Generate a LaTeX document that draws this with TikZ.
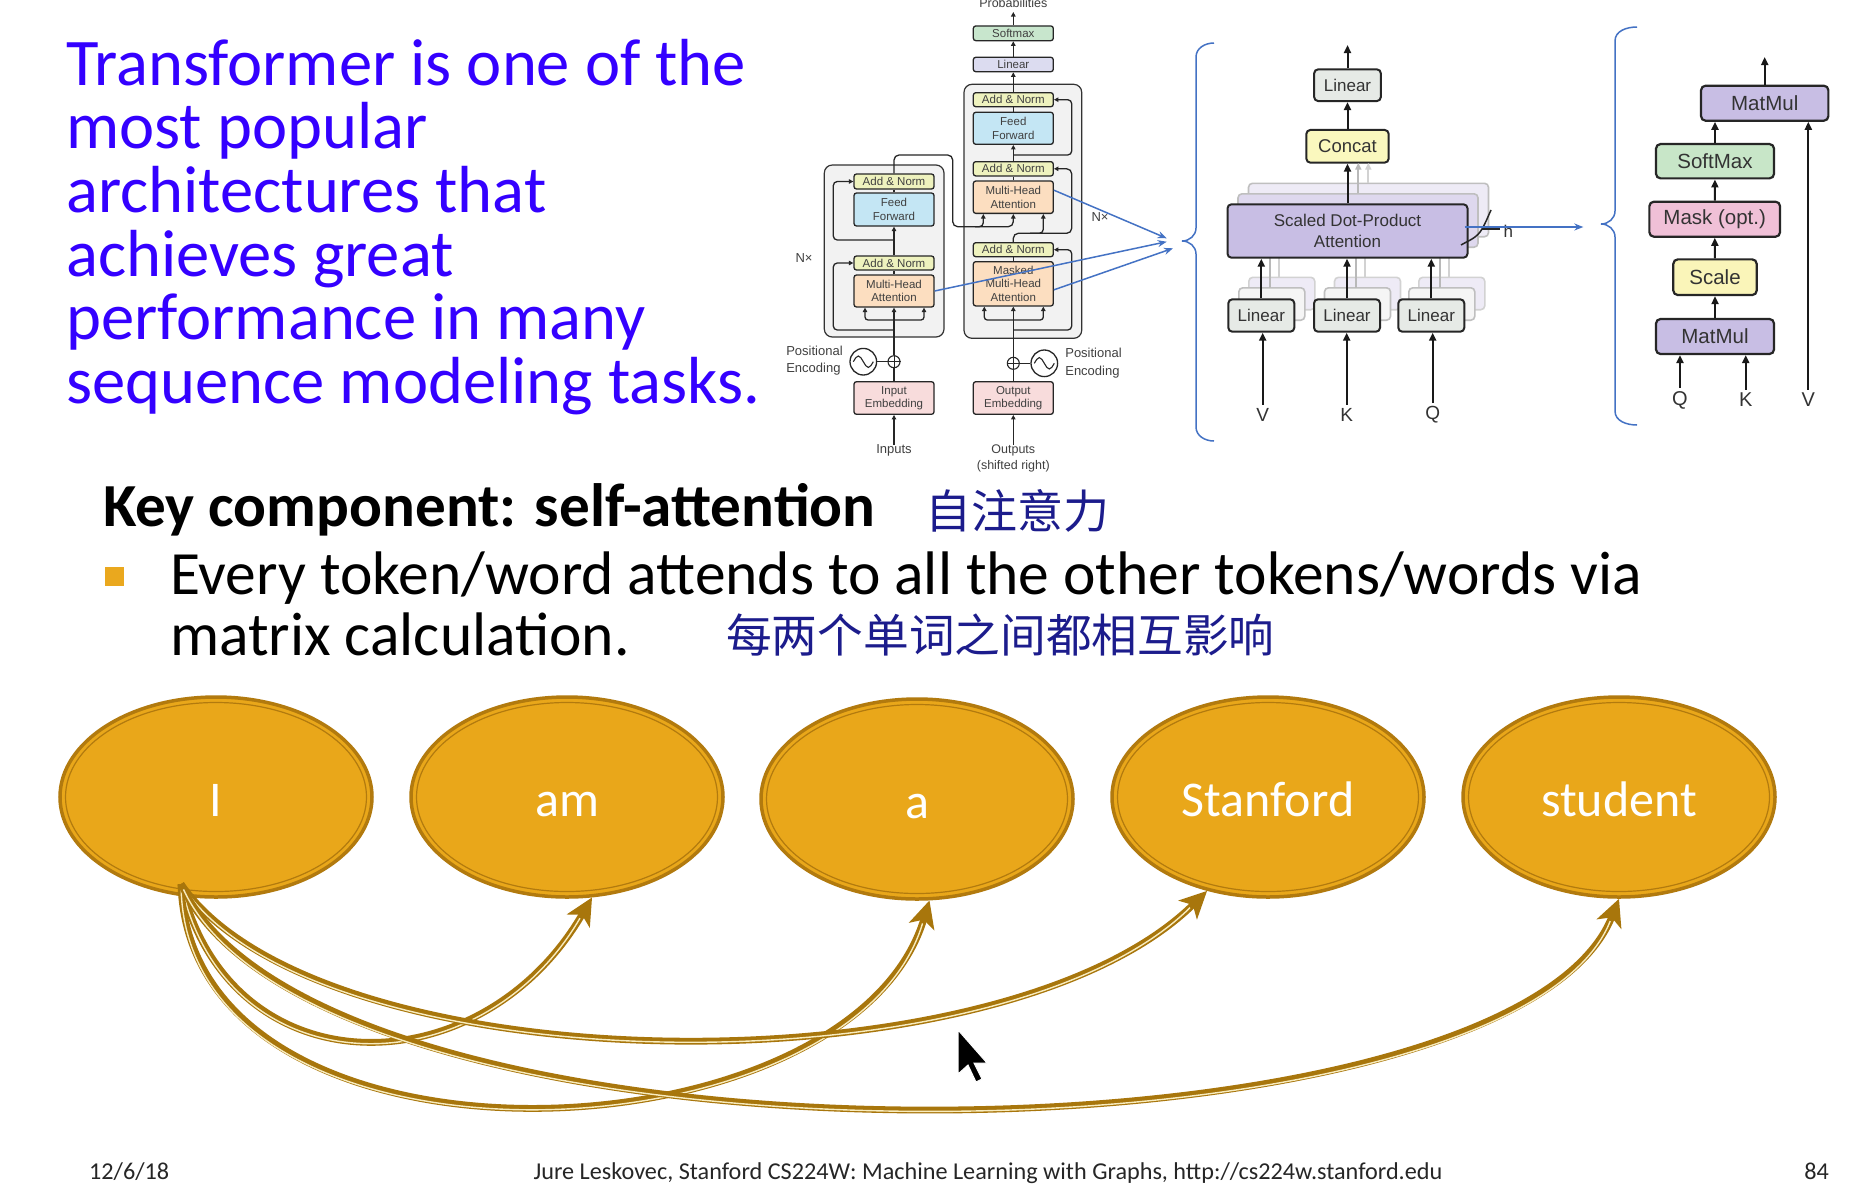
\documentclass[tikz,border=0pt]{standalone}
\usepackage{fontspec}
\setmainfont{Carlito}
\newfontfamily\hv{Liberation Sans}
\newfontfamily\cjk{Noto Sans CJK SC}
\usetikzlibrary{arrows.meta,shapes.geometric,calc}
\definecolor{titleblue}{RGB}{52,0,255}
\definecolor{hand}{RGB}{28,28,140}
\definecolor{bulletc}{RGB}{234,168,30}
\definecolor{tokfill}{RGB}{233,167,26}
\definecolor{tokring}{RGB}{178,122,14}
\definecolor{attncol}{RGB}{168,118,12}
\definecolor{attncore}{RGB}{248,236,190}
\definecolor{annblue}{RGB}{68,114,196}
\definecolor{anfill}{RGB}{238,242,190}
\definecolor{fffill}{RGB}{196,230,244}
\definecolor{mhafill}{RGB}{252,222,192}
\definecolor{embfill}{RGB}{248,220,220}
\definecolor{linfill}{RGB}{220,220,240}
\definecolor{softfill}{RGB}{200,230,205}
\definecolor{mlin}{RGB}{230,234,230}
\definecolor{mcon}{RGB}{250,248,190}
\definecolor{sdpfill}{RGB}{200,190,228}
\definecolor{ghostA}{RGB}{222,216,238}
\definecolor{ghostB}{RGB}{238,235,246}
\definecolor{smfill}{RGB}{200,230,200}
\definecolor{mkfill}{RGB}{240,192,215}
\definecolor{scfill}{RGB}{250,245,185}
\newcommand\tfnt{\hv\fontsize{11.5}{13.4}\selectfont}
\newcommand\mfnt{\hv\fontsize{17}{21.5}\selectfont}
\newcommand\sfnt{\hv\fontsize{20.5}{22}\selectfont}
\begin{document}
\begin{tikzpicture}[x=1pt,y=-1pt,
  tbox/.style={draw=black!85, line width=1.3pt, rounded corners=2.5pt, inner sep=0pt, minimum width=80pt, align=center, text=black!75, font=\tfnt},
  tarr/.style={line width=1.3pt, draw=black!85, -{Triangle[length=4.5pt,width=4.5pt]}},
  twire/.style={line width=1.3pt, draw=black!85},
  tlab/.style={inner sep=0pt, text=black!75, font=\hv\fontsize{13}{17.3}\selectfont, align=left},
  mbox/.style={draw=black!85, line width=2pt, rounded corners=4pt, inner sep=0pt, align=center, text=black!80, font=\mfnt},
  gbox/.style={draw=gray!50, line width=1.6pt, rounded corners=4pt, inner sep=0pt},
  marr/.style={line width=2pt, draw=black!90, -{Triangle[length=8pt,width=7pt]}},
  garr/.style={line width=1.8pt, draw=gray!55, -{Triangle[length=7pt,width=6pt]}},
  sbox/.style={draw=black!85, line width=2.2pt, rounded corners=4.5pt, inner sep=0pt, align=center, text=black!80, font=\sfnt},
  qkv/.style={text=black!80, font=\hv\fontsize{19}{20}\selectfont},
  bline/.style={draw=annblue, line width=1.5pt},
  blarr/.style={draw=annblue, line width=1.5pt, -{Stealth[length=9pt,width=7pt]}},
  tok/.style={ellipse, fill=tokfill, draw=tokring, line width=3.5pt, minimum width=312pt, minimum height=200pt, inner sep=0pt, text=white, font=\fontsize{50}{50}\selectfont, text height=38pt, text depth=0pt},
  attn/.style={draw=attncol, line width=6.8pt, -{Stealth[length=27pt,width=26pt,inset=7pt]}, postaction={draw=attncore, line width=1.4pt, shorten >=24pt, shorten <=6pt, -}},
  foot/.style={inner sep=0pt, text=black!85, font=\fontsize{24.2}{25}\selectfont}
]
\useasboundingbox (0,0) rectangle (1860,1184);
\fill[white] (0,0) rectangle (1860,1184);

% ---------- title ----------
\foreach \t [count=\i from 0] in {Transformer is one of the, most popular, architectures that, achieves great, performance in many, sequence modeling tasks.}
  \node[anchor=base west, inner sep=0pt, text=titleblue, font=\fontsize{66.6}{66}\selectfont] (title\i) at (66,85+63.7*\i) {\t};

% ---------- key component ----------
\node[anchor=base west, inner sep=0pt, font=\bfseries\fontsize{61.2}{61}\selectfont] (key) at (103,526) {Key component: self-attention};
\node[anchor=base west, inner sep=0pt, text=hand, font=\cjk\fontsize{46}{46}\selectfont] (zh1) at (925,528) {自注意力};
\fill[bulletc] (105,567) rectangle (124,586);
\node[anchor=base west, inner sep=0pt, font=\fontsize{61.5}{61}\selectfont] (b1) at (170,594) {Every token/word attends to all the other tokens/words via};
\node[anchor=base west, inner sep=0pt, font=\fontsize{61.5}{61}\selectfont] (b2) at (170,655) {matrix calculation.};
\node[anchor=base west, inner sep=0pt, text=hand, font=\cjk\fontsize{45.7}{46}\selectfont] (zh2) at (726,652) {每两个单词之间都相互影响};

% ---------- transformer: encoder ----------
\node[fill=black!5, draw=black!80, line width=1.2pt, rounded corners=8pt, minimum width=119.7pt, minimum height=172pt, inner sep=0pt] (encbox) at (884.15,251) {};
\node[fill=black!5, draw=black!80, line width=1.2pt, rounded corners=8pt, minimum width=117.7pt, minimum height=254pt, inner sep=0pt] (decbox) at (1022.85,211.3) {};

\node[tbox, fill=anfill, minimum height=15pt] (eAN2) at (894,181.5) {Add \& Norm};
\node[tbox, fill=fffill, minimum height=33pt] (eFF) at (894,209.5) {Feed\\Forward};
\node[tbox, fill=anfill, minimum height=14pt] (eAN1) at (894,263) {Add \& Norm};
\node[tbox, fill=mhafill, minimum height=32pt] (eMHA) at (894,291) {Multi-Head\\Attention};
\node[tbox, fill=embfill, minimum height=32.6pt] (eEmb) at (894,398) {Input\\Embedding};
\node[tlab, align=center] (inputs) at (894,450.7) {Inputs};
\node[circle, draw=black!85, line width=1.1pt, minimum size=12pt, inner sep=0pt] (ePlus) at (894,361.7) {};
\draw[line width=1pt, black!85] (ePlus.north)--(ePlus.south) (ePlus.west)--(ePlus.east);
\node[circle, draw=black!85, line width=1.3pt, minimum size=26.6pt, inner sep=0pt] (ePos) at (863.3,361.7) {};
\draw[line width=1.1pt, black!85] (853.3,361.7) sin (858.3,356) cos (863.3,361.7) sin (868.3,367.4) cos (873.3,361.7);
\node[tlab] (ePE) at (814.5,360.5) {Positional\\Encoding};
\node[tlab] (eNx) at (804,258) {N×};

\draw[tarr] (inputs) -- (eEmb);
\draw[twire] (eEmb) -- (ePlus);
\draw[twire] (ePos) -- (ePlus);
\draw[tarr] (ePlus) -- (eMHA);
\draw[tarr, rounded corners=3pt] (894,320) -| ([xshift=-29pt]eMHA.south);
\draw[tarr, rounded corners=3pt] (894,320) -| ([xshift=30pt]eMHA.south);
\draw[tarr, rounded corners=4pt] (894,330) -| (833.3,300) |- (eAN1.west);
\draw[twire] (eMHA) -- (eAN1);
\draw[tarr] (eAN1) -- (eFF);
\draw[tarr, rounded corners=4pt] (894,240) -| (833.3,220) |- (eAN2.west);
\draw[twire] (eFF) -- (eAN2);

% ---------- transformer: decoder ----------
\node[tbox, fill=softfill, minimum height=14.7pt] (dSoft) at (1013.3,33.3) {Softmax};
\node[tbox, fill=linfill, minimum height=14.4pt] (dLin) at (1013.3,64.5) {Linear};
\node[tbox, fill=anfill, minimum height=14pt] (dAN3) at (1013.3,99.7) {Add \& Norm};
\node[tbox, fill=fffill, minimum height=32pt] (dFF) at (1013.3,128.3) {Feed\\Forward};
\node[tbox, fill=anfill, minimum height=14.3pt] (dAN2) at (1013.3,168.8) {Add \& Norm};
\node[tbox, fill=mhafill, minimum height=32.3pt] (dMHA) at (1013.3,197.2) {Multi-Head\\Attention};
\node[tbox, fill=anfill, minimum height=14pt] (dAN1) at (1013.3,249.7) {Add \& Norm};
\node[tbox, fill=mhafill, minimum height=44.3pt] (dMMHA) at (1013.3,283.8) {Masked\\Multi-Head\\Attention};
\node[tbox, fill=embfill, minimum height=32.6pt] (dEmb) at (1013.3,398) {Output\\Embedding};
\node[tlab, align=center, font=\hv\fontsize{12.5}{16}\selectfont] (outputs) at (1013.3,458.7) {Outputs\\(shifted right)};
\node[circle, draw=black!85, line width=1.1pt, minimum size=12pt, inner sep=0pt] (dPlus) at (1013.3,363.3) {};
\draw[line width=1pt, black!85] (dPlus.north)--(dPlus.south) (dPlus.west)--(dPlus.east);
\node[circle, draw=black!85, line width=1.3pt, minimum size=26.6pt, inner sep=0pt] (dPos) at (1044.3,363.3) {};
\draw[line width=1.1pt, black!85] (1034.3,363.3) sin (1039.3,357.6) cos (1044.3,363.3) sin (1049.3,369) cos (1054.3,363.3);
\node[tlab] (dPE) at (1093.5,363) {Positional\\Encoding};
\node[tlab] (dNx) at (1100,216.7) {N×};
\node[anchor=base, inner sep=0pt, text=black!75, font=\hv\fontsize{12.5}{14}\selectfont] (prob) at (1013.3,7) {Probabilities};
\coordinate (probtip) at (1013.3,12);

\draw[tarr] (outputs) -- (dEmb);
\draw[twire] (dEmb) -- (dPlus);
\draw[twire] (dPos) -- (dPlus);
\draw[tarr] (dPlus) -- (dMMHA);
\draw[tarr, rounded corners=3pt] (1013.3,320) -| ([xshift=-29pt]dMMHA.south);
\draw[tarr, rounded corners=3pt] (1013.3,320) -| ([xshift=30pt]dMMHA.south);
\draw[tarr, rounded corners=4pt] (1013.3,330) -| (1071.7,300) |- (dAN1.east);
\draw[twire] (dMMHA) -- (dAN1);
\draw[tarr, rounded corners=5pt] (dAN1.north) |- (1071.7,233.3) |- (dAN2.east);
\draw[tarr, rounded corners=4pt] (1030,233.3) -| ([xshift=30pt]dMHA.south);
\draw[tarr, rounded corners=5pt] (eAN2.north) |- (952.7,155) |- (1013.3,226.7) -- (dMHA.south);
\draw[tarr, rounded corners=4pt] (975,226.7) -| ([xshift=-30pt]dMHA.south);
\draw[twire] (dMHA) -- (dAN2);
\draw[tarr] (dAN2) -- (dFF);
\draw[tarr, rounded corners=4pt] (1013.3,155) -| (1071.7,130) |- (dAN3.east);
\draw[twire] (dFF) -- (dAN3);
\draw[tarr] (dAN3) -- (dLin);
\draw[tarr] (dLin) -- (dSoft);
\draw[tarr] (dSoft.north) -- (probtip);

% ---------- blue annotations (left) ----------
\coordinate (bt1) at (1166.7,238.3);
\coordinate (bt2) at (1166.7,241.7);
\coordinate (bt3) at (1173,248.3);
\draw[blarr] ([yshift=7pt]dMHA.east) -- (bt1);
\draw[blarr] (eMHA.east) -- (bt2);
\draw[blarr] ([yshift=-6pt]dMMHA.east) -- (bt3);
\draw[bline] (1214,43) to[out=180,in=90] (1196,57) -- (1196,228) to[out=-90,in=0] (1182,241) to[out=0,in=90] (1196,254) -- (1196,427) to[out=-90,in=180] (1214,441);

% ---------- multi-head attention ----------
\node[mbox, fill=mlin, minimum width=66.7pt, minimum height=31.7pt] (mLin) at (1347.5,85.2) {Linear};
\node[mbox, fill=mcon, minimum width=82.3pt, minimum height=32.7pt, font=\hv\fontsize{18.5}{20}\selectfont] (mCon) at (1347.5,146.3) {Concat};
\node[gbox, fill=ghostB, minimum width=240pt, minimum height=53.4pt] (mSg2) at (1368.5,210) {};
\node[gbox, fill=ghostA, minimum width=240pt, minimum height=53.4pt] (mSg1) at (1358,220.5) {};
\draw[garr, draw=gray!35] (mSg2.north -| 1368.3,0) -- (1368.3,162.7);
\draw[garr] (mSg1.north -| 1358.3,0) -- (1358.3,162.7);
\foreach \n/\cx in {1/1261.3,2/1347,3/1431.3}{
  \node[gbox, fill=ghostB, draw=gray!35, minimum width=66pt, minimum height=32.4pt] (mLg2\n) at (\cx+20.5,293.5) {};
  \node[gbox, fill=gray!8, minimum width=66pt, minimum height=32.4pt] (mLg1\n) at (\cx+10.5,304) {};
  \draw[line width=1.8pt, gray!35] (\cx+18,277.3) -- (\cx+18,236);
  \draw[line width=1.8pt, gray!55] (\cx+9,288) -- (\cx+9,246);
}
\node[mbox, fill=sdpfill, minimum width=240pt, minimum height=53.4pt] (mSDPA) at (1347.5,231) {Scaled Dot-Product\\Attention};
\node[mbox, fill=mlin, minimum width=66pt, minimum height=32.4pt] (mL1) at (1261.3,315.5) {Linear};
\node[mbox, fill=mlin, minimum width=66pt, minimum height=32.4pt] (mL2) at (1347,315.5) {Linear};
\node[mbox, fill=mlin, minimum width=66pt, minimum height=32.4pt] (mL3) at (1431.3,315.5) {Linear};
\node[qkv] (lV) at (1262.7,415) {V};
\node[qkv] (lK) at (1346.7,415) {K};
\node[qkv] (lQ) at (1432.7,415) {Q};
\coordinate (mtop) at (1347.5,45);
\draw[marr] (lV) -- (lV |- mL1.south);
\draw[marr] (lK) -- (lK |- mL2.south);
\draw[marr] (lQ) -- (lQ |- mL3.south);
\draw[marr] (mL1.north) -- (mL1.north |- mSDPA.south);
\draw[marr] (mL2.north) -- (mL2.north |- mSDPA.south);
\draw[marr] (mL3.north) -- (mL3.north |- mSDPA.south);
\draw[marr] (mSDPA) -- (mCon);
\draw[marr] (mCon) -- (mLin);
\draw[marr] (mLin) -- (mtop);
\draw[line width=1.5pt, black!85] (1491,210) to[out=-115,in=60] (1482,229) to[out=-120,in=30] (1461,245);
\draw[line width=1.3pt, black!85] (1482,229) -- (1500,229);
\node[qkv, font=\hv\fontsize{17}{18}\selectfont, inner sep=0pt] (hlab) at (1508.3,231) {h};
\coordinate (bt4) at (1583.3,227);
\draw[blarr] ([xshift=-4pt,yshift=4pt]mSDPA.east) -- (bt4);
\draw[bline] (1637,27) to[out=180,in=90] (1615,41) -- (1615,211) to[out=-90,in=0] (1601,224) to[out=0,in=90] (1615,237) -- (1615,411) to[out=-90,in=180] (1637,425);

% ---------- scaled dot-product attention ----------
\node[sbox, fill=sdpfill, minimum width=127.3pt, minimum height=35pt] (sMM2) at (1764.7,103.2) {MatMul};
\node[sbox, fill=smfill, minimum width=118pt, minimum height=34.3pt] (sSoft) at (1715,161.2) {SoftMax};
\node[sbox, fill=mkfill, minimum width=130.7pt, minimum height=35pt] (sMask) at (1714.7,219.2) {Mask (opt.)};
\node[sbox, fill=scfill, minimum width=83.4pt, minimum height=35.7pt] (sScale) at (1715,277.2) {Scale};
\node[sbox, fill=sdpfill, minimum width=118pt, minimum height=35pt] (sMM1) at (1715,336.5) {MatMul};
\node[qkv, font=\hv\fontsize{20}{21}\selectfont] (sQ) at (1680,400) {Q};
\node[qkv, font=\hv\fontsize{20}{21}\selectfont] (sK) at (1745.7,400) {K};
\node[qkv, font=\hv\fontsize{20}{21}\selectfont] (sV) at (1808.3,400) {V};
\coordinate (stop) at (1764.7,57);
\draw[marr] (sQ) -- (sQ |- sMM1.south);
\draw[marr] (sK) -- (sK |- sMM1.south);
\draw[marr] (sMM1) -- (sScale);
\draw[marr] (sScale) -- (sMask);
\draw[marr] (sMask) -- (sSoft);
\draw[marr] (sSoft.north) -- (sSoft.north |- sMM2.south);
\draw[marr] (sV) -- (sV |- sMM2.south);
\draw[marr] (sMM2) -- (stop);

% ---------- tokens ----------
\node[tok] (tI) at (216,797) {I};
\node[tok] (tam) at (567,797) {am};
\node[tok] (ta) at (917,799) {a};
\node[tok] (tS) at (1268,797) {Stanford};
\node[tok] (tst) at (1619,797) {student};
\foreach \n in {tI,tam,ta,tS,tst}
  \draw[tokring, line width=1.2pt] (\n.center) ellipse [x radius=150.5pt, y radius=94.5pt];

\coordinate (src) at (181,884);
\draw[attn] (src) .. controls (230,1090) and (480,1090) .. (tam.284);
\draw[attn] (src) .. controls (190,1190) and (850,1165) .. (ta.277);
\draw[attn] (src) .. controls (320,1085) and (1000,1095) .. (tS.237);
\draw[attn] (src) .. controls (320,1185) and (1510,1175) .. (tst.270);

% ---------- cursor ----------
\fill[black, draw=white, line width=1pt] (958,1030) -- ++(0,44) -- ++(10,-9) -- ++(8,17) -- ++(6,-3) -- ++(-8,-16) -- ++(13,0) -- cycle;

% ---------- footer ----------
\node[foot, anchor=base west] (fdate) at (89,1179) {12/6/18};
\node[foot, anchor=base] (fmid) at (988,1179) {Jure Leskovec, Stanford CS224W: Machine Learning with Graphs, http://cs224w.stanford.edu};
\node[foot, anchor=base east] (fpage) at (1829,1179) {84};
\end{tikzpicture}
\end{document}
